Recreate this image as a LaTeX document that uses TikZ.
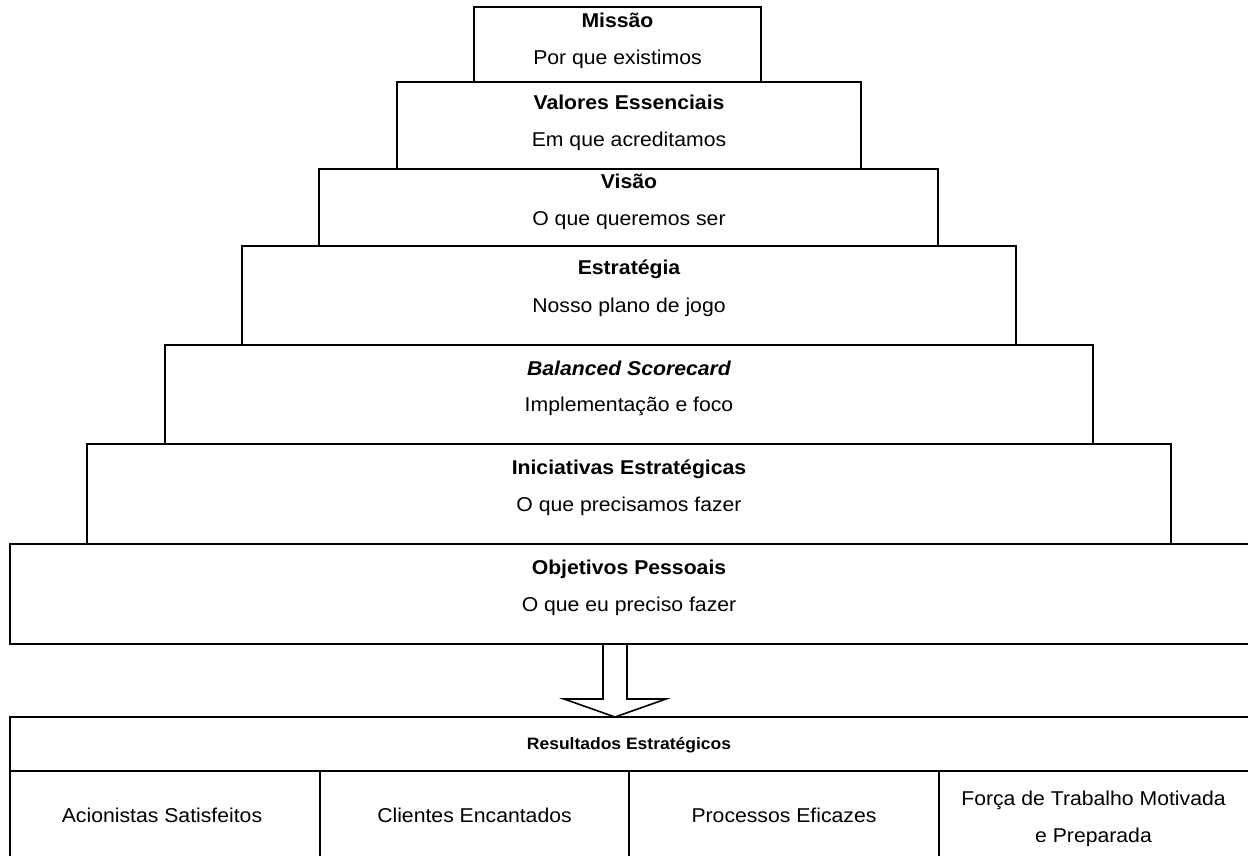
\documentclass[tikz,border=0pt]{standalone}
\usepackage{fontspec}
\setmainfont[FakeStretch=1.06]{Liberation Sans}
\begin{document}
\begin{tikzpicture}[x=1pt,y=-1pt,
  lvl/.style={draw, line width=2.6pt, minimum width=#1, inner sep=0pt},
  tcell/.style={draw, line width=2.2pt, inner sep=0pt},
  ttl/.style={anchor=base, inner sep=0pt, font=\bfseries\fontsize{20}{22}\selectfont},
  sub/.style={anchor=base, inner sep=0pt, font=\fontsize{20}{22}\selectfont},
  hdrtxt/.style={anchor=base, inner sep=0pt, font=\bfseries\fontsize{16.5}{20}\selectfont},
  bigarrow/.style={draw, line width=1.6pt, fill=white, line join=miter}]
\useasboundingbox (0,0) rectangle (1248,856);
\clip (0,0) rectangle (1248,856);
% pyramid levels
\node[lvl=287pt, minimum height=75pt] (b1) at (617.5,44.5) {};
\node[lvl=464pt, minimum height=87pt] (b2) at (629,125.5) {};
\node[lvl=619pt, minimum height=77pt] (b3) at (628.5,207.5) {};
\node[lvl=774pt, minimum height=99pt] (b4) at (629,295.5) {};
\node[lvl=928pt, minimum height=99pt] (b5) at (629,394.5) {};
\node[lvl=1084pt, minimum height=100pt] (b6) at (629,494) {};
\node[lvl=1260pt, minimum height=100pt] (b7) at (640,594) {};
% texts
\node[ttl] (t1) at (617.5,28) {Missão};
\node[sub] (s1) at (617.5,65) {Por que existimos};
\node[ttl] (t2) at (629,110) {Valores Essenciais};
\node[sub] (s2) at (629,147) {Em que acreditamos};
\node[ttl] (t3) at (629,189) {Visão};
\node[sub] (s3) at (629,225) {O que queremos ser};
\node[ttl] (t4) at (629,274) {Estratégia};
\node[sub] (s4) at (629,312) {Nosso plano de jogo};
\node[ttl] (t5) at (629,375) {\itshape Balanced Scorecard};
\node[sub] (s5) at (629,411) {Implementação e foco};
\node[ttl] (t6) at (629,474) {Iniciativas Estratégicas};
\node[sub] (s6) at (629,511) {O que precisamos fazer};
\node[ttl] (t7) at (629,574) {Objetivos Pessoais};
\node[sub] (s7) at (629,611) {O que eu preciso fazer};
% block arrow
\coordinate (a1) at (603,644);
\coordinate (a2) at (627,644);
\coordinate (tip) at (615,717);
\draw[bigarrow] (a1) -- (a2) -- (627,699) -- (666,699) -- (tip) -- (564,699) -- (603,699) -- cycle;
% results table
\node[tcell, minimum width=1260pt, minimum height=54pt] (hdr) at (640,744) {};
\node[tcell, minimum width=310pt, minimum height=100pt] (c1) at (165,821) {};
\node[tcell, minimum width=309pt, minimum height=100pt] (c2) at (474.5,821) {};
\node[tcell, minimum width=310pt, minimum height=100pt] (c3) at (784,821) {};
\node[tcell, minimum width=330pt, minimum height=100pt] (c4) at (1104,821) {};
\node[hdrtxt] (hdrt) at (629,749) {Resultados Estratégicos};
\node[sub] (r1) at (162,822) {Acionistas Satisfeitos};
\node[sub] (r2) at (474.5,822) {Clientes Encantados};
\node[sub] (r3) at (784,822) {Processos Eficazes};
\node[sub] (r4a) at (1093.5,805) {Força de Trabalho Motivada};
\node[sub] (r4b) at (1093.5,842) {e Preparada};
\end{tikzpicture}
\end{document}
